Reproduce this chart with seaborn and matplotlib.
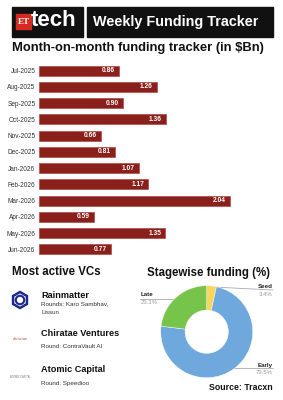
import matplotlib
matplotlib.use("Agg")
import matplotlib.pyplot as plt
import seaborn as sns
import pandas as pd
from matplotlib.patches import Rectangle, RegularPolygon, Circle
from matplotlib.lines import Line2D

months = ["Jul-2025", "Aug-2025", "Sep-2025", "Oct-2025", "Nov-2025", "Dec-2025",
          "Jan-2026", "Feb-2026", "Mar-2026", "Apr-2026", "May-2026", "Jun-2026"]
funding = [0.86, 1.26, 0.90, 1.36, 0.66, 0.81, 1.07, 1.17, 2.04, 0.59, 1.35, 0.77]

stages = ["Seed", "Early", "Late"]
stage_pct = [3.4, 73.5, 23.1]
stage_colors = ["#F8D55C", "#6FA8DC", "#77C44B"]

vc_names = ["Rainmatter", "Chiratae Ventures", "Atomic Capital"]
vc_rounds = [["Rounds: Karo Sambhav,", "Lissun"], ["Round: ContraVault AI"], ["Round: Speedioo"]]

sns.set_theme(style="white")
plt.rcParams["font.family"] = ["Liberation Sans", "DejaVu Sans"]

W, H = 283, 400
fig = plt.figure(figsize=(W / 100, H / 100), dpi=100)
fig.patch.set_facecolor("white")

def fx(x):
    return x / W

def fy(y):
    return 1 - y / H

def ftext(x, y, s, **kw):
    fig.text(fx(x), fy(y), s, **kw)

# ---- header ----
fig.patches.append(Rectangle((fx(12), fy(37)), fx(83) - fx(12), fy(7) - fy(37),
                             transform=fig.transFigure, color="#111111", zorder=0))
fig.patches.append(Rectangle((fx(87), fy(37)), fx(273) - fx(87), fy(7) - fy(37),
                             transform=fig.transFigure, color="#111111", zorder=0))
fig.patches.append(Rectangle((fx(16), fy(29)), fx(31) - fx(16), fy(14) - fy(29),
                             transform=fig.transFigure, color="#D42A1F", zorder=1))
ftext(23.5, 22, "ET", color="white", fontsize=6.5, fontweight="bold", family="Liberation Serif",
      ha="center", va="center")
ftext(31, 21, "tech", color="white", fontsize=16, fontweight="bold", ha="left", va="center")
ftext(93, 22, "Weekly Funding Tracker", color="white", fontsize=10.4, fontweight="bold",
      ha="left", va="center")

ftext(12, 48, "Month-on-month funding tracker (in $Bn)", color="#111111", fontsize=9.4,
      fontweight="bold", ha="left", va="center")

# ---- bar chart ----
top_px, bot_px = 62.6, 257.4
ax = fig.add_axes([fx(39), fy(bot_px), fx(270) - fx(39), (bot_px - top_px) / H])
df = pd.DataFrame({"month": months, "funding": funding})
sns.barplot(data=df, y="month", x="funding", orient="h", color="#8A201C", width=0.62,
            edgecolor="#B24A45", linewidth=0.5, saturation=1, ax=ax)
ax.set_xlim(0, 231 / 93.5)
ax.set_xlabel("")
ax.set_ylabel("")
ax.set_xticks([])
for s in ax.spines.values():
    s.set_visible(False)
ax.tick_params(axis="y", length=0, pad=2.5, labelsize=4.7, labelcolor="#333333")
for i, v in enumerate(funding):
    ax.annotate(f"{v:.2f}", (v, i), xytext=(-3, 0), textcoords="offset points",
                ha="right", va="center", color="white", fontsize=4.8, fontweight="bold")

# ---- Most active VCs ----
ftext(12, 272, "Most active VCs", color="#111111", fontsize=8.3, fontweight="bold",
      ha="left", va="center")
name_y = [295, 333, 370]
round_y = [303.5, 346, 383]
for n, rlines, yn, yr in zip(vc_names, vc_rounds, name_y, round_y):
    ftext(41, yn, n, color="#111111", fontsize=6.6, fontweight="bold", ha="left", va="center")
    for k, line in enumerate(rlines):
        ftext(41, yr + k * 9.5, line, color="#333333", fontsize=4.5, ha="left", va="center")

# logos
lax = fig.add_axes([0, 0, 1, 1], facecolor="none")
lax.set_xlim(0, W)
lax.set_ylim(H, 0)
lax.axis("off")
lax.add_patch(RegularPolygon((20, 300), 6, radius=8, orientation=0, fill=False,
                             edgecolor="#1C2A8C", linewidth=1.8))
lax.add_patch(Circle((20, 300), 4.2, fill=False, edgecolor="#1C2A8C", linewidth=1.5))
lax.text(20, 339, "chiratae", color="#C0392B", fontsize=3.2, ha="center", va="center",
         family="Liberation Serif", style="italic")
lax.text(20, 377, "ATOMIC CAPITAL", color="#777777", fontsize=1.8, ha="center", va="center")

# ---- donut ----
ftext(147, 273, "Stagewise funding (%)", color="#111111", fontsize=8.3, fontweight="bold",
      ha="left", va="center")
cx, cy, r = 206.7, 331.7, 46
R = 50
pax = fig.add_axes([fx(cx - R), fy(cy + R), 2 * R / W, 2 * R / H])
pax.pie(stage_pct, colors=stage_colors, startangle=90, counterclock=False,
        wedgeprops=dict(width=0.53, edgecolor="white", linewidth=0.3))
pax.set_xlim(-R / r, R / r)
pax.set_ylim(-R / r, R / r)
pax.set_aspect("auto")

# leader lines and labels
lax.add_line(Line2D([212, 273], [287, 290], color="#AAAAAA", linewidth=0.6))
lax.add_line(Line2D([140, 174], [298.5, 298.5], color="#AAAAAA", linewidth=0.6))
lax.add_line(Line2D([232, 273], [368, 368], color="#AAAAAA", linewidth=0.6))
lax.text(273, 287, "Seed", fontsize=4.5, fontweight="bold", color="#222222", ha="right", va="center")
lax.text(273, 294, "3.4%", fontsize=4.3, color="#999999", ha="right", va="center")
lax.text(141, 295, "Late", fontsize=4.5, fontweight="bold", color="#222222", ha="left", va="center")
lax.text(141, 302, "23.1%", fontsize=4.3, color="#999999", ha="left", va="center")
lax.text(273, 365, "Early", fontsize=4.5, fontweight="bold", color="#222222", ha="right", va="center")
lax.text(273, 372, "73.5%", fontsize=4.3, color="#999999", ha="right", va="center")

ftext(273, 388, "Source: Tracxn", color="#111111", fontsize=6.3, fontweight="bold",
      ha="right", va="center")

fig.savefig("out.png", dpi=100, facecolor="white")
